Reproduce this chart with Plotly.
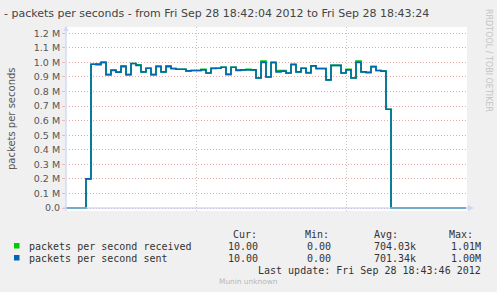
import plotly.graph_objects as go
import pandas as pd

# ---------------- data ----------------
start_time = "2012-09-28 18:42:04"
end_time = "2012-09-28 18:43:24"
grid_times = ["2012-09-28 18:42:30", "2012-09-28 18:43:00"]

sent = [0, 0, 0, 0, 200000, 987000, 985000, 1000000, 916000, 944000,
        933000, 971000, 916000, 993000, 980000, 935000, 960000, 916000, 973000, 935000,
        971000, 956000, 953000, 953000, 942000, 944000, 944000, 949000, 927000, 958000,
        960000, 967000, 918000, 967000, 944000, 949000, 949000, 949000, 893000, 1000000,
        900000, 998000, 935000, 940000, 927000, 984000, 935000, 960000, 927000, 976000,
        956000, 956000, 880000, 980000, 980000, 927000, 949000, 893000, 1000000, 935000,
        929000, 971000, 944000, 940000, 678000, 0, 0, 0, 0, 0,
        0, 0, 0, 0, 0, 0, 0, 0, 0, 0]

received = [0, 0, 0, 0, 200000, 987000, 990000, 1000000, 916000, 949000,
            933000, 976000, 916000, 993000, 984000, 935000, 960000, 916000, 973000, 935000,
            976000, 960000, 953000, 953000, 942000, 944000, 944000, 953000, 927000, 962000,
            960000, 967000, 918000, 967000, 949000, 949000, 953000, 949000, 893000, 1009000,
            900000, 1002000, 944000, 944000, 927000, 989000, 935000, 960000, 931000, 976000,
            960000, 960000, 880000, 980000, 980000, 927000, 953000, 893000, 1009000, 935000,
            933000, 971000, 944000, 940000, 678000, 0, 0, 0, 0, 0,
            0, 0, 0, 0, 0, 0, 0, 0, 0, 0]

ytick_vals = [0, 100000, 200000, 300000, 400000, 500000, 600000,
              700000, 800000, 900000, 1000000, 1100000, 1200000]
ytick_text = ["0.0", "0.1 M", "0.2 M", "0.3 M", "0.4 M", "0.5 M", "0.6 M",
              "0.7 M", "0.8 M", "0.9 M", "1.0 M", "1.1 M", "1.2 M"]

series_names = ["packets per second received", "packets per second sent"]
series_colors = ["#00CC00", "#0066B3"]
cur_vals = ["10.00", "10.00"]
min_vals = ["0.00", "0.00"]
avg_vals = ["704.03k", "701.34k"]
max_vals = ["1.01M", "1.00M"]

title_text = "- packets per seconds - from Fri Sep 28 18:42:04 2012 to Fri Sep 28 18:43:24"
ylabel = "packets per seconds"
last_update = "Last update: Fri Sep 28 18:43:46 2012"
footer = "Munin unknown"
watermark = "RRDTOOL / TOBI OETIKER"

# ---------------- build ----------------
times = pd.date_range(start=start_time, periods=len(sent), freq="s")
times_ext = list(times) + [pd.Timestamp(end_time)]
sent_ext = sent + [sent[-1]]
recv_ext = received + [received[-1]]

W, H = 497, 292
L, R, T, B = 66, 467, 27, 211


def px(x):
    return (x - L) / (R - L)


def py(y):
    return (B - y) / (B - T)


fig = go.Figure()
fig.add_trace(go.Scatter(x=times_ext, y=recv_ext, mode="lines", line_shape="hv",
                         line=dict(color=series_colors[0], width=1.6), name=series_names[0]))
fig.add_trace(go.Scatter(x=times_ext, y=sent_ext, mode="lines", line_shape="hv",
                         line=dict(color=series_colors[1], width=1.6), name=series_names[1]))

per_px = 1200000 / (208 - 33.3)
y_lo = -(B - 208) * per_px
y_hi = 1200000 + (33.3 - T) * per_px

fig.update_layout(
    width=W, height=H,
    margin=dict(l=L, r=W - R, t=T, b=H - B, pad=0),
    paper_bgcolor="#F0F0F0",
    plot_bgcolor="#FFFFFF",
    showlegend=False,
    xaxis=dict(range=[start_time, "2012-09-28 18:43:24.2"], type="date",
               tickvals=grid_times, showticklabels=False, ticks="",
               showgrid=True, gridcolor="#C4C4C4", griddash="1px,2px", gridwidth=1,
               zeroline=False, showline=False),
    yaxis=dict(range=[y_lo, y_hi], tickvals=ytick_vals, ticktext=ytick_text,
               ticks="outside", ticklen=3, tickcolor="#F0B8B8",
               tickfont=dict(family="DejaVu Sans", size=9.5, color="#555555"),
               showgrid=True, gridcolor="#EAAAAA", griddash="1px,2px", gridwidth=1,
               zeroline=False, showline=False),
)

ann_common = dict(xref="paper", yref="paper", showarrow=False)
# title
fig.add_annotation(x=px(2), y=py(13), text=title_text, xanchor="left", yanchor="middle",
                   font=dict(family="DejaVu Sans", size=11, color="#444444"), **ann_common)
# y label
fig.add_annotation(x=px(11), y=py(119), text=ylabel, textangle=-90, xanchor="center",
                   yanchor="middle", font=dict(family="DejaVu Sans", size=10, color="#555555"),
                   **ann_common)
# watermark
fig.add_annotation(x=px(489), y=py(61), text=watermark, textangle=90, xanchor="center",
                   yanchor="middle", font=dict(family="DejaVu Sans", size=8, color="#C4C4C4"),
                   **ann_common)

mono = dict(family="DejaVu Sans Mono", size=10, color="#333333")
# headers
for label, xl in [("Cur:", 231), ("Min:", 303), ("Avg:", 372), ("Max:", 447)]:
    fig.add_annotation(x=px(xl), y=py(234), text=label, xanchor="left", yanchor="middle",
                       font=mono, **ann_common)

rows_y = [246, 258]
for i in range(2):
    yy = rows_y[i]
    fig.add_shape(type="rect", xref="paper", yref="paper",
                  x0=px(14), x1=px(19.5), y0=py(yy - 3), y1=py(yy + 2.5),
                  fillcolor=series_colors[i], line=dict(width=0))
    fig.add_annotation(x=px(27), y=py(yy), text=series_names[i], xanchor="left",
                       yanchor="middle", font=mono, **ann_common)
    for val, xr in [(cur_vals[i], 260), (min_vals[i], 333), (avg_vals[i], 418), (max_vals[i], 483)]:
        fig.add_annotation(x=px(xr), y=py(yy), text=val, xanchor="right", yanchor="middle",
                           font=mono, **ann_common)

fig.add_annotation(x=px(483), y=py(270), text=last_update, xanchor="right", yanchor="middle",
                   font=mono, **ann_common)
fig.add_annotation(x=px(248), y=py(281), text=footer, xanchor="center", yanchor="middle",
                   font=dict(family="DejaVu Sans", size=7.4, color="#B8B8B8"), **ann_common)

# axes lines and arrows
axis_col = "rgba(196,206,245,0.75)"
fig.add_shape(type="line", xref="paper", yref="paper", x0=px(66), x1=px(66),
              y0=py(211), y1=py(29), line=dict(color="#D4DAF4", width=1.5), layer="above")
fig.add_shape(type="line", xref="paper", yref="paper", x0=px(63), x1=px(469),
              y0=py(208), y1=py(208), line=dict(color=axis_col, width=1.5), layer="above")
fig.add_shape(type="path", xref="paper", yref="paper",
              path=f"M {px(63.5)},{py(31)} L {px(68.5)},{py(31)} L {px(66)},{py(25.5)} Z",
              fillcolor="#D0D8F8", line=dict(width=0), layer="above")
fig.add_shape(type="path", xref="paper", yref="paper",
              path=f"M {px(468)},{py(205)} L {px(468)},{py(211)} L {px(474)},{py(208)} Z",
              fillcolor="#D0D8F8", line=dict(width=0), layer="above")

fig.write_html("out.html")
